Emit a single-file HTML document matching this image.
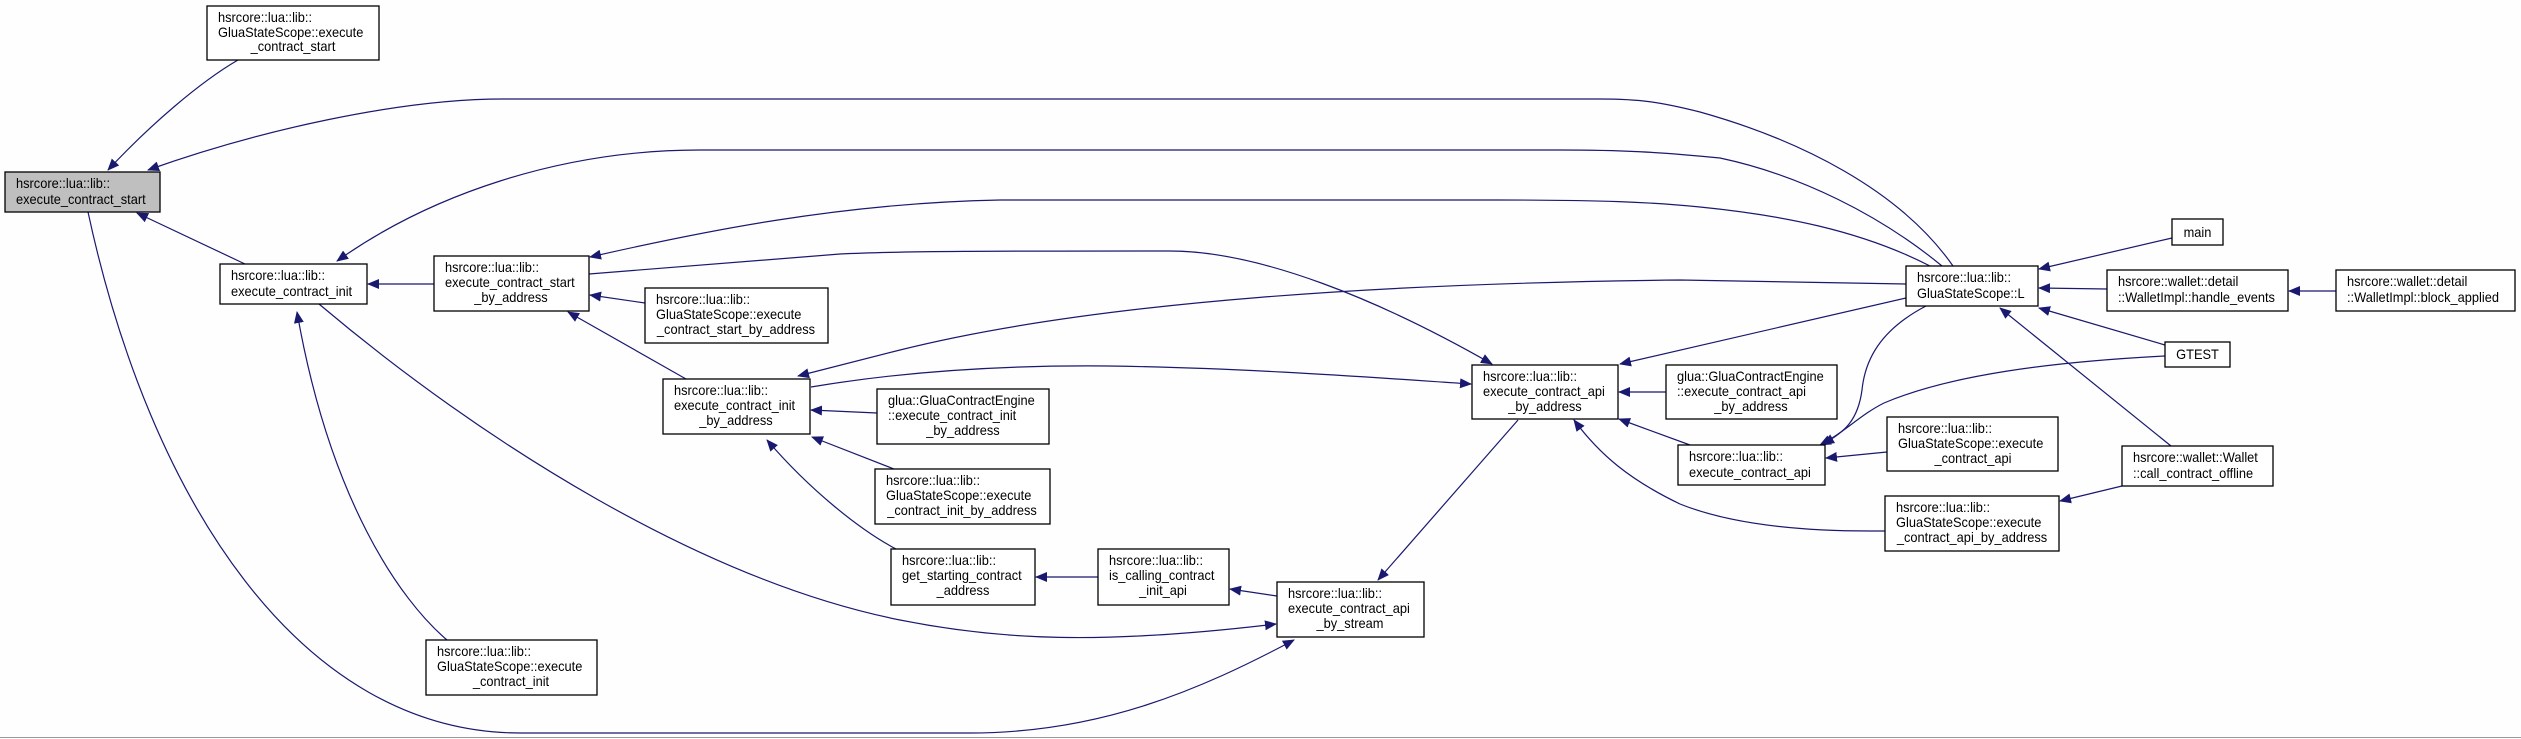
<!DOCTYPE html>
<html><head><meta charset="utf-8"><style>
html,body{margin:0;padding:0;background:#fefefe;}
svg{display:block;}
text{font-family:"Liberation Sans",Arial,sans-serif;font-size:13.5px;fill:#000;}
.n{fill:#fff;stroke:#000;stroke-width:1.3;}
.g{fill:#bfbfbf;stroke:#000;stroke-width:1.3;}
.e{fill:none;stroke:#191970;stroke-width:1.2;}
</style></head><body>
<svg width="2521" height="739" viewBox="0 0 2521 739" xmlns="http://www.w3.org/2000/svg">
<defs>
<marker id="a" viewBox="0 0 12 10" refX="11" refY="5" markerWidth="12" markerHeight="10" markerUnits="userSpaceOnUse" orient="auto">
<path d="M0,0 L12,5 L0,10 z" fill="#191970"/>
</marker>
</defs>
<rect x="0" y="0" width="2521" height="739" fill="#fefefe"/>
<line x1="0" y1="737.5" x2="2521" y2="737.5" stroke="#999" stroke-width="1"/>

<g class="e">
<path marker-end="url(#a)" d="M238,60 C200,82 150,125 108,170"/>
<path marker-end="url(#a)" d="M1953,266 C1900,190 1800,140 1700,112 C1660,102 1640,99 1600,99 L503,99 C400,99 260,130 148,170"/>
<path marker-end="url(#a)" d="M1942,266 C1880,215 1800,175 1720,158 C1660,152 1620,150 1560,150 L700,150 C560,150 430,195 337,261"/>
<path marker-end="url(#a)" d="M245,264 L137,213"/>
<path marker-end="url(#a)" d="M434,284 L368,284"/>
<path marker-end="url(#a)" d="M1930,266 C1860,230 1780,215 1700,207 C1650,202 1600,200 1500,200 L1000,200 C840,203 700,232 590,257"/>
<path marker-end="url(#a)" d="M589,274 L840,254 C900,251 1000,251 1170,251 C1260,251 1380,300 1492,364"/>
<path marker-end="url(#a)" d="M1906,284 L1680,280 C1400,283 1100,300 900,350 L798,376"/>
<path marker-end="url(#a)" d="M811,387 C900,372 1000,365 1108,366 C1250,368 1380,378 1471,384"/>
<path marker-end="url(#a)" d="M1906,298 C1800,322 1700,345 1620,364"/>
<path marker-end="url(#a)" d="M877,413 L811,410"/>
<path marker-end="url(#a)" d="M894,469 L812,437"/>
<path marker-end="url(#a)" d="M896,549 C860,530 810,490 767,440"/>
<path marker-end="url(#a)" d="M1098,577 L1036,577"/>
<path marker-end="url(#a)" d="M1277,596 L1230,589"/>
<path marker-end="url(#a)" d="M1518,420 L1378,580"/>
<path marker-end="url(#a)" d="M319,304 C480,440 700,580 900,620 C1000,640 1100,645 1276,624"/>
<path marker-end="url(#a)" d="M447,640 C400,600 330,500 297,312"/>
<path marker-end="url(#a)" d="M88,212 C150,500 300,733 520,733 L970,733 C1100,733 1200,690 1294,640"/>
<path marker-end="url(#a)" d="M1926,306 C1880,330 1865,360 1862,390 C1858,420 1845,432 1823,444"/>
<path marker-end="url(#a)" d="M2165,356 C2050,362 1950,375 1884,403 C1860,415 1845,432 1820,445"/>
<path marker-end="url(#a)" d="M1887,452 L1826,458"/>
<path marker-end="url(#a)" d="M1885,531 L1870,531 C1780,531 1720,520 1680,504 C1630,480 1600,455 1574,420"/>
<path marker-end="url(#a)" d="M1690,445 L1619,419"/>
<path marker-end="url(#a)" d="M1666,392 L1619,392"/>
<path marker-end="url(#a)" d="M2172,238 L2039,269"/>
<path marker-end="url(#a)" d="M2107,289 L2039,288"/>
<path marker-end="url(#a)" d="M2336,291 L2289,291"/>
<path marker-end="url(#a)" d="M2165,345 L2039,308"/>
<path marker-end="url(#a)" d="M2171,446 L2000,308"/>
<path marker-end="url(#a)" d="M2122,486 L2060,501"/>
<path marker-end="url(#a)" d="M645,303 L590,295"/>
<path marker-end="url(#a)" d="M686,379 L568,312"/>
</g>

<rect class="g" x="5" y="172" width="155" height="40"/>
<text transform="translate(16,188) scale(0.95,1)">hsrcore::lua::lib::</text>
<text transform="translate(16,204) scale(0.95,1)">execute_contract_start</text>

<rect class="n" x="207" y="6" width="172" height="54"/>
<text transform="translate(218,22) scale(0.95,1)">hsrcore::lua::lib::</text>
<text transform="translate(218,37) scale(0.95,1)">GluaStateScope::execute</text>
<text transform="translate(293,51) scale(0.95,1)" text-anchor="middle">_contract_start</text>

<rect class="n" x="220" y="264" width="147" height="40"/>
<text transform="translate(231,280) scale(0.95,1)">hsrcore::lua::lib::</text>
<text transform="translate(231,296) scale(0.95,1)">execute_contract_init</text>

<rect class="n" x="434" y="256" width="155" height="55"/>
<text transform="translate(445,272) scale(0.95,1)">hsrcore::lua::lib::</text>
<text transform="translate(445,287) scale(0.95,1)">execute_contract_start</text>
<text transform="translate(511,302) scale(0.95,1)" text-anchor="middle">_by_address</text>

<rect class="n" x="645" y="288" width="183" height="55"/>
<text transform="translate(656,304) scale(0.95,1)">hsrcore::lua::lib::</text>
<text transform="translate(656,319) scale(0.95,1)">GluaStateScope::execute</text>
<text transform="translate(736,334) scale(0.95,1)" text-anchor="middle">_contract_start_by_address</text>

<rect class="n" x="663" y="379" width="147" height="55"/>
<text transform="translate(674,395) scale(0.95,1)">hsrcore::lua::lib::</text>
<text transform="translate(674,410) scale(0.95,1)">execute_contract_init</text>
<text transform="translate(736,425) scale(0.95,1)" text-anchor="middle">_by_address</text>

<rect class="n" x="426" y="640" width="171" height="55"/>
<text transform="translate(437,656) scale(0.95,1)">hsrcore::lua::lib::</text>
<text transform="translate(437,671) scale(0.95,1)">GluaStateScope::execute</text>
<text transform="translate(511,686) scale(0.95,1)" text-anchor="middle">_contract_init</text>

<rect class="n" x="877" y="389" width="172" height="55"/>
<text transform="translate(888,405) scale(0.95,1)">glua::GluaContractEngine</text>
<text transform="translate(888,420) scale(0.95,1)">::execute_contract_init</text>
<text transform="translate(963,435) scale(0.95,1)" text-anchor="middle">_by_address</text>

<rect class="n" x="875" y="469" width="175" height="55"/>
<text transform="translate(886,485) scale(0.95,1)">hsrcore::lua::lib::</text>
<text transform="translate(886,500) scale(0.95,1)">GluaStateScope::execute</text>
<text transform="translate(962,515) scale(0.95,1)" text-anchor="middle">_contract_init_by_address</text>

<rect class="n" x="891" y="549" width="144" height="56"/>
<text transform="translate(902,565) scale(0.95,1)">hsrcore::lua::lib::</text>
<text transform="translate(902,580) scale(0.95,1)">get_starting_contract</text>
<text transform="translate(963,595) scale(0.95,1)" text-anchor="middle">_address</text>

<rect class="n" x="1098" y="549" width="131" height="56"/>
<text transform="translate(1109,565) scale(0.95,1)">hsrcore::lua::lib::</text>
<text transform="translate(1109,580) scale(0.95,1)">is_calling_contract</text>
<text transform="translate(1163,595) scale(0.95,1)" text-anchor="middle">_init_api</text>

<rect class="n" x="1277" y="582" width="147" height="55"/>
<text transform="translate(1288,598) scale(0.95,1)">hsrcore::lua::lib::</text>
<text transform="translate(1288,613) scale(0.95,1)">execute_contract_api</text>
<text transform="translate(1350,628) scale(0.95,1)" text-anchor="middle">_by_stream</text>

<rect class="n" x="1472" y="365" width="146" height="54"/>
<text transform="translate(1483,381) scale(0.95,1)">hsrcore::lua::lib::</text>
<text transform="translate(1483,396) scale(0.95,1)">execute_contract_api</text>
<text transform="translate(1545,411) scale(0.95,1)" text-anchor="middle">_by_address</text>

<rect class="n" x="1666" y="365" width="171" height="54"/>
<text transform="translate(1677,381) scale(0.95,1)">glua::GluaContractEngine</text>
<text transform="translate(1677,396) scale(0.95,1)">::execute_contract_api</text>
<text transform="translate(1751,411) scale(0.95,1)" text-anchor="middle">_by_address</text>

<rect class="n" x="1678" y="445" width="147" height="40"/>
<text transform="translate(1689,461) scale(0.95,1)">hsrcore::lua::lib::</text>
<text transform="translate(1689,477) scale(0.95,1)">execute_contract_api</text>

<rect class="n" x="1906" y="266" width="132" height="40"/>
<text transform="translate(1917,282) scale(0.95,1)">hsrcore::lua::lib::</text>
<text transform="translate(1917,298) scale(0.95,1)">GluaStateScope::L</text>

<rect class="n" x="1887" y="417" width="171" height="54"/>
<text transform="translate(1898,433) scale(0.95,1)">hsrcore::lua::lib::</text>
<text transform="translate(1898,448) scale(0.95,1)">GluaStateScope::execute</text>
<text transform="translate(1973,463) scale(0.95,1)" text-anchor="middle">_contract_api</text>

<rect class="n" x="1885" y="496" width="174" height="55"/>
<text transform="translate(1896,512) scale(0.95,1)">hsrcore::lua::lib::</text>
<text transform="translate(1896,527) scale(0.95,1)">GluaStateScope::execute</text>
<text transform="translate(1972,542) scale(0.95,1)" text-anchor="middle">_contract_api_by_address</text>

<rect class="n" x="2172" y="219" width="51" height="26"/>
<text transform="translate(2197.5,237) scale(0.95,1)" text-anchor="middle">main</text>

<rect class="n" x="2107" y="270" width="181" height="41"/>
<text transform="translate(2118,286) scale(0.95,1)">hsrcore::wallet::detail</text>
<text transform="translate(2118,302) scale(0.95,1)">::WalletImpl::handle_events</text>

<rect class="n" x="2336" y="270" width="179" height="41"/>
<text transform="translate(2347,286) scale(0.95,1)">hsrcore::wallet::detail</text>
<text transform="translate(2347,302) scale(0.95,1)">::WalletImpl::block_applied</text>

<rect class="n" x="2165" y="342" width="65" height="25"/>
<text transform="translate(2197.5,359) scale(0.95,1)" text-anchor="middle">GTEST</text>

<rect class="n" x="2122" y="446" width="151" height="40"/>
<text transform="translate(2133,462) scale(0.95,1)">hsrcore::wallet::Wallet</text>
<text transform="translate(2133,478) scale(0.95,1)">::call_contract_offline</text>
</svg>
</body></html>
